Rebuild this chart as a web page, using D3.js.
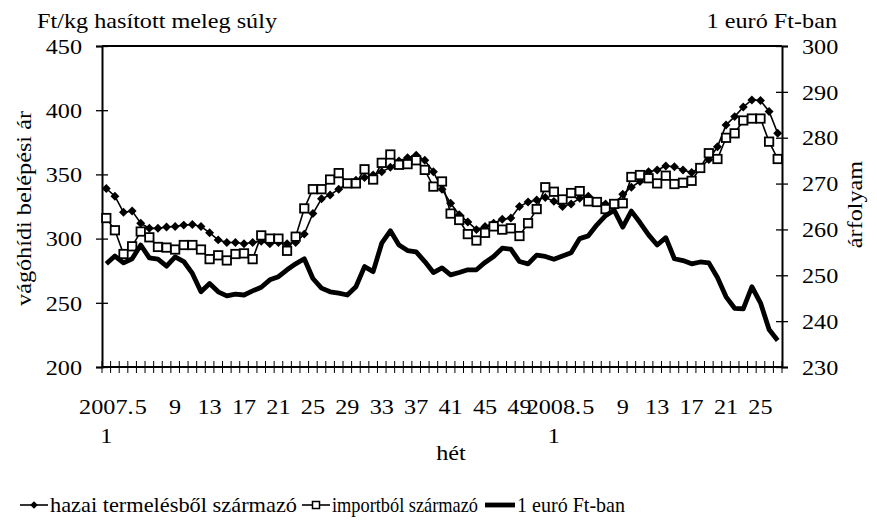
<!DOCTYPE html>
<html>
<head>
<meta charset="utf-8">
<script src="https://cdn.jsdelivr.net/npm/d3@7"></script>
<style>
  html, body { margin: 0; padding: 0; background: #fff; }
  svg text { font-family: "Liberation Serif", "Times New Roman", Times, serif; fill: #000; }
</style>
</head>
<body>
<svg id="chart" width="877" height="531"></svg>
<script>
// ---- data ----
const weeks2007 = d3.range(1, 53);
const weeks2008 = d3.range(1, 28);
const categories = weeks2007.map(w => "2007." + w).concat(weeks2008.map(w => "2008." + w));

const hazai = [339, 333, 320.5, 321.5, 312, 308, 308, 309, 309.5, 310.5,
  311, 309.5, 304.5, 299, 297, 297, 296, 297, 298, 296,
  297, 296, 297, 303.5, 319.5, 331, 334, 338.5, 343, 345.5,
  347.5, 349.5, 352, 355.5, 360.5, 363, 365, 361, 352, 338.5,
  327.5, 318.5, 313, 307, 309.5, 312, 315, 316, 325, 328.5,
  330, 332, 329, 325, 327, 331.5, 333, 329, 327, 326,
  334.5, 340, 344.5, 352, 353.5, 356.5, 356, 353.5, 351.5, 355.5,
  361.5, 371.5, 388.5, 395, 402.5, 408, 407.5, 399, 382];

const importbol = [316, 306.5, 288, 294, 305.5, 301, 293.5, 293, 291.5, 295,
  295, 291.5, 284, 287, 283, 288, 288.5, 284, 302.5, 300,
  300, 290.5, 301.5, 323.5, 338.5, 338.5, 346, 351, 343, 343,
  354, 346, 359, 365.5, 357.5, 358, 361, 353.5, 340.5, 344.5,
  319.5, 314.5, 303.5, 298.5, 304.5, 309.5, 307, 308, 302, 312,
  323, 340, 336.5, 330.5, 335.5, 337, 329, 328.5, 323, 327,
  327.5, 348, 349.5, 347, 343, 349, 342.5, 343.5, 345, 355,
  366.5, 362, 378.5, 382, 392, 393.5, 393.5, 375.5, 362];

const euro = [252.5, 254.2, 252.7, 253.6, 256.6, 253.8, 253.5, 252, 254, 253,
  250.4, 246.4, 248.2, 246.4, 245.5, 245.9, 245.7, 246.6, 247.4, 249,
  249.7, 251.2, 252.5, 253.6, 249.3, 247.2, 246.4, 246.1, 245.7, 247.5,
  251.9, 250.8, 257, 259.7, 256.6, 255.4, 255.1, 253, 250.6, 251.6,
  250.1, 250.6, 251.2, 251.2, 252.8, 254.1, 255.9, 255.7, 253, 252.5,
  254.4, 254.1, 253.5, 254.2, 254.9, 258, 258.6, 261, 263, 264.2,
  260.5, 264, 261.5, 258.8, 256.6, 258.2, 253.6, 253.2, 252.5, 252.9,
  252.7, 249.5, 245.3, 242.8, 242.7, 247.5, 244, 238.2, 235.8];

const leftTicks = [200, 250, 300, 350, 400, 450];
const rightTicks = [230, 240, 250, 260, 270, 280, 290, 300];
const labelEvery = 4;

const seriesNames = ["hazai termelésből származó", "importból származó", "1 euró Ft-ban"];
const leftTitle = "Ft/kg hasított meleg súly";
const rightTitle = "1 euró Ft-ban";
const leftAxisTitle = "vágóhídi belépési ár";
const rightAxisTitle = "árfolyam";
const xAxisTitle = "hét";

// ---- layout ----
const FS = 22;
const L = 102, R = 782, T = 46, B = 367;
const svg = d3.select("#chart");

const x = d3.scaleBand().domain(d3.range(categories.length)).range([L, R]).padding(0);
const yL = d3.scaleLinear().domain([200, 450]).range([B, T]);
const yR = d3.scaleLinear().domain([230, 300]).range([B, T]);
const cx = i => x(i) + x.bandwidth() / 2;

// frame top line
svg.append("line").attr("x1", L).attr("x2", R).attr("y1", T).attr("y2", T)
  .attr("stroke", "#000").attr("stroke-width", 2);

// left axis
const gL = svg.append("g").attr("transform", `translate(${L},0)`)
  .call(d3.axisLeft(yL).tickValues(leftTicks).tickSize(6).tickPadding(14));
gL.attr("font-family", null);
gL.select(".domain").attr("stroke-width", 2);
gL.selectAll(".tick line").attr("x2", 6).attr("x1", -6).attr("stroke-width", 1.3);
gL.selectAll(".tick text").attr("font-size", FS).attr("dy", "0.33em");

// right axis
const gR = svg.append("g").attr("transform", `translate(${R},0)`)
  .call(d3.axisRight(yR).tickValues(rightTicks).tickSize(6).tickPadding(14));
gR.attr("font-family", null);
gR.select(".domain").attr("stroke-width", 2);
gR.selectAll(".tick line").attr("x1", -6).attr("x2", 6).attr("stroke-width", 1.3);
gR.selectAll(".tick text").attr("font-size", FS).attr("dy", "0.33em");

// bottom axis: line + boundary ticks
svg.append("line").attr("x1", L).attr("x2", R).attr("y1", B).attr("y2", B)
  .attr("stroke", "#000").attr("stroke-width", 2);
const bounds = d3.range(categories.length + 1).map(i => i < categories.length ? x(i) : R);
svg.append("g").selectAll("line").data(bounds).join("line")
  .attr("x1", d => d).attr("x2", d => d).attr("y1", B - 6).attr("y2", B + 6)
  .attr("stroke", "#000").attr("stroke-width", 1);

// x labels
const shown = d3.range(categories.length).filter(i => {
  const w = +categories[i].split(".")[1];
  return (w - 1) % labelEvery === 0;
});
const gX = svg.append("g");
shown.forEach(i => {
  const [yr, wk] = categories[i].split(".");
  const t = gX.append("text").attr("x", cx(i)).attr("y", 414).attr("text-anchor", "middle").attr("font-size", FS);
  if (wk === "1") {
    t.text(yr + ".");
    gX.append("text").attr("x", cx(i)).attr("y", 443).attr("text-anchor", "middle").attr("font-size", FS).text(wk);
  } else {
    t.text(wk);
  }
});

// titles
svg.append("text").attr("x", 37).attr("y", 28).attr("font-size", FS).text(leftTitle);
svg.append("text").attr("x", 837).attr("y", 28).attr("font-size", FS).attr("text-anchor", "end").text(rightTitle);
svg.append("text").attr("transform", `translate(31,${(T + B) / 2 + 2}) rotate(-90)`)
  .attr("text-anchor", "middle").attr("font-size", FS).text(leftAxisTitle);
svg.append("text").attr("transform", `translate(862,${(T + B) / 2 - 2}) rotate(-90)`)
  .attr("text-anchor", "middle").attr("font-size", FS).text(rightAxisTitle);
svg.append("text").attr("x", 451).attr("y", 460).attr("text-anchor", "middle").attr("font-size", FS).text(xAxisTitle);

// stretch all text slightly wider (reference glyphs are wide)
svg.selectAll("text").each(function () {
  const w = this.getComputedTextLength();
  d3.select(this).attr("textLength", w * 1.1).attr("lengthAdjust", "spacingAndGlyphs");
});

// series
const lineL = d3.line().x((d, i) => cx(i)).y(d => yL(d));
const lineR = d3.line().x((d, i) => cx(i)).y(d => yR(d));
const diamond = d3.symbol().type(d3.symbolSquare).size(40);

svg.append("path").datum(hazai).attr("d", lineL).attr("fill", "none").attr("stroke", "#000").attr("stroke-width", 1.6);
svg.append("g").selectAll("path").data(hazai).join("path")
  .attr("d", diamond).attr("transform", (d, i) => `translate(${cx(i)},${yL(d)}) rotate(45)`).attr("fill", "#000");

svg.append("path").datum(importbol).attr("d", lineL).attr("fill", "none").attr("stroke", "#000").attr("stroke-width", 1.6);
svg.append("g").selectAll("rect").data(importbol).join("rect")
  .attr("x", (d, i) => cx(i) - 4.2).attr("y", d => yL(d) - 4.2).attr("width", 8.4).attr("height", 8.4)
  .attr("fill", "#fff").attr("stroke", "#000").attr("stroke-width", 1.8);

svg.append("path").datum(euro).attr("d", lineR).attr("fill", "none").attr("stroke", "#000")
  .attr("stroke-width", 4.8).attr("stroke-linejoin", "round");

// legend
const lg = svg.append("g");
const ly = 505;
lg.append("line").attr("x1", 20).attr("x2", 48).attr("y1", ly).attr("y2", ly).attr("stroke", "#000").attr("stroke-width", 1.6);
lg.append("path").attr("d", d3.symbol().type(d3.symbolSquare).size(30)).attr("transform", `translate(34,${ly}) rotate(45)`);
lg.append("text").attr("x", 50).attr("y", ly + 7).attr("font-size", FS).attr("textLength", 247).attr("lengthAdjust", "spacingAndGlyphs").text(seriesNames[0]);
lg.append("line").attr("x1", 302).attr("x2", 330).attr("y1", ly).attr("y2", ly).attr("stroke", "#000").attr("stroke-width", 1.6);
lg.append("rect").attr("x", 312.5).attr("y", ly - 3.5).attr("width", 7).attr("height", 7).attr("fill", "#fff").attr("stroke", "#000").attr("stroke-width", 1.5);
lg.append("text").attr("x", 332).attr("y", ly + 7).attr("font-size", FS).attr("textLength", 146).attr("lengthAdjust", "spacingAndGlyphs").text(seriesNames[1]);
lg.append("line").attr("x1", 485).attr("x2", 515).attr("y1", ly).attr("y2", ly).attr("stroke", "#000").attr("stroke-width", 4.8);
lg.append("text").attr("x", 517).attr("y", ly + 7).attr("font-size", FS).attr("textLength", 108).attr("lengthAdjust", "spacingAndGlyphs").text(seriesNames[2]);
</script>
</body>
</html>
